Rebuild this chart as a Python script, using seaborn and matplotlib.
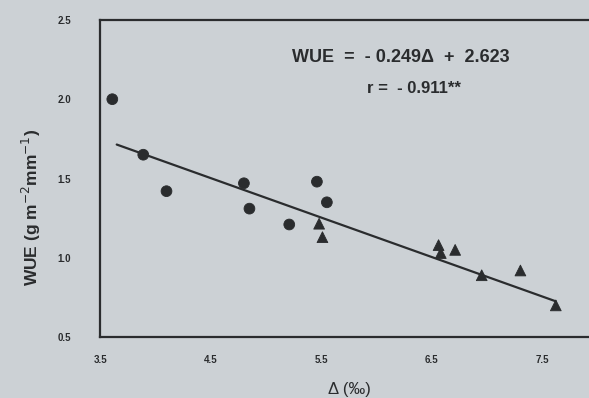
import matplotlib
matplotlib.use("Agg")
import matplotlib.pyplot as plt
import seaborn as sns
import pandas as pd
import numpy as np

# Data
delta_circles = [3.61, 3.89, 4.10, 4.80, 4.85, 5.21, 5.46, 5.55]
wue_circles = [2.00, 1.65, 1.42, 1.47, 1.31, 1.21, 1.48, 1.35]
delta_triangles = [5.48, 5.51, 6.56, 6.58, 6.71, 6.95, 7.30, 7.62]
wue_triangles = [1.215, 1.13, 1.08, 1.03, 1.05, 0.89, 0.92, 0.70]
slope = -0.249
intercept = 2.623
line_delta = [3.65, 7.62]
x_ticks = [3.5, 4.5, 5.5, 6.5, 7.5]
y_ticks = [0.5, 1.0, 1.5, 2.0, 2.5]

df = pd.DataFrame({
    "delta": delta_circles + delta_triangles,
    "wue": wue_circles + wue_triangles,
    "group": ["circle"] * len(delta_circles) + ["triangle"] * len(delta_triangles),
})
line_df = pd.DataFrame({"delta": line_delta,
                        "wue": [slope * d + intercept for d in line_delta]})

sns.set_style("white")
plt.rcParams["font.family"] = ["Liberation Sans", "DejaVu Sans"]

bg = "#ccd1d5"
ink = "#2a2c2e"
fig = plt.figure(figsize=(5.89, 3.98), dpi=100, facecolor=bg)
ax = fig.add_axes([0.17, 0.153, 0.845, 0.797])
ax.set_facecolor(bg)

sns.lineplot(data=line_df, x="delta", y="wue", color=ink, linewidth=1.6, ax=ax)
sns.scatterplot(data=df, x="delta", y="wue", style="group",
                markers={"circle": "o", "triangle": "^"},
                color=ink, s=60, edgecolor=ink, legend=False, ax=ax)

ax.set_xlim(3.5, 8.0)
ax.set_ylim(0.5, 2.5)
ax.set_xticks(x_ticks)
ax.set_yticks(y_ticks)
ax.set_xticklabels([f"{t:.1f}" for t in x_ticks], fontsize=7, fontweight="bold", color=ink)
ax.set_yticklabels([f"{t:.1f}" for t in y_ticks], fontsize=7, fontweight="bold", color=ink)
ax.tick_params(axis="x", direction="out", length=3, width=1.2, color=ink, pad=10)
ax.tick_params(axis="y", direction="out", length=3, width=1.2, color=ink, pad=18)

for side in ["left", "bottom", "top"]:
    ax.spines[side].set_color(ink)
    ax.spines[side].set_linewidth(1.6)
ax.spines["right"].set_visible(False)

ax.set_xlabel("Δ (‰)", fontsize=12, color=ink, labelpad=12)
ax.set_ylabel("WUE (g m$^{-2}$mm$^{-1}$)", fontsize=12.5, fontweight="bold",
              color=ink)
ax.yaxis.set_label_coords(-0.115, 0.41)

ax.text(0.605, 0.88, "WUE  =  - 0.249Δ  +  2.623", transform=ax.transAxes,
        ha="center", va="center", fontsize=13, fontweight="bold", color=ink)
ax.text(0.63, 0.785, "r =  - 0.911**", transform=ax.transAxes,
        ha="center", va="center", fontsize=12, fontweight="bold", color=ink)

fig.savefig("out.png", dpi=100, facecolor=bg)
